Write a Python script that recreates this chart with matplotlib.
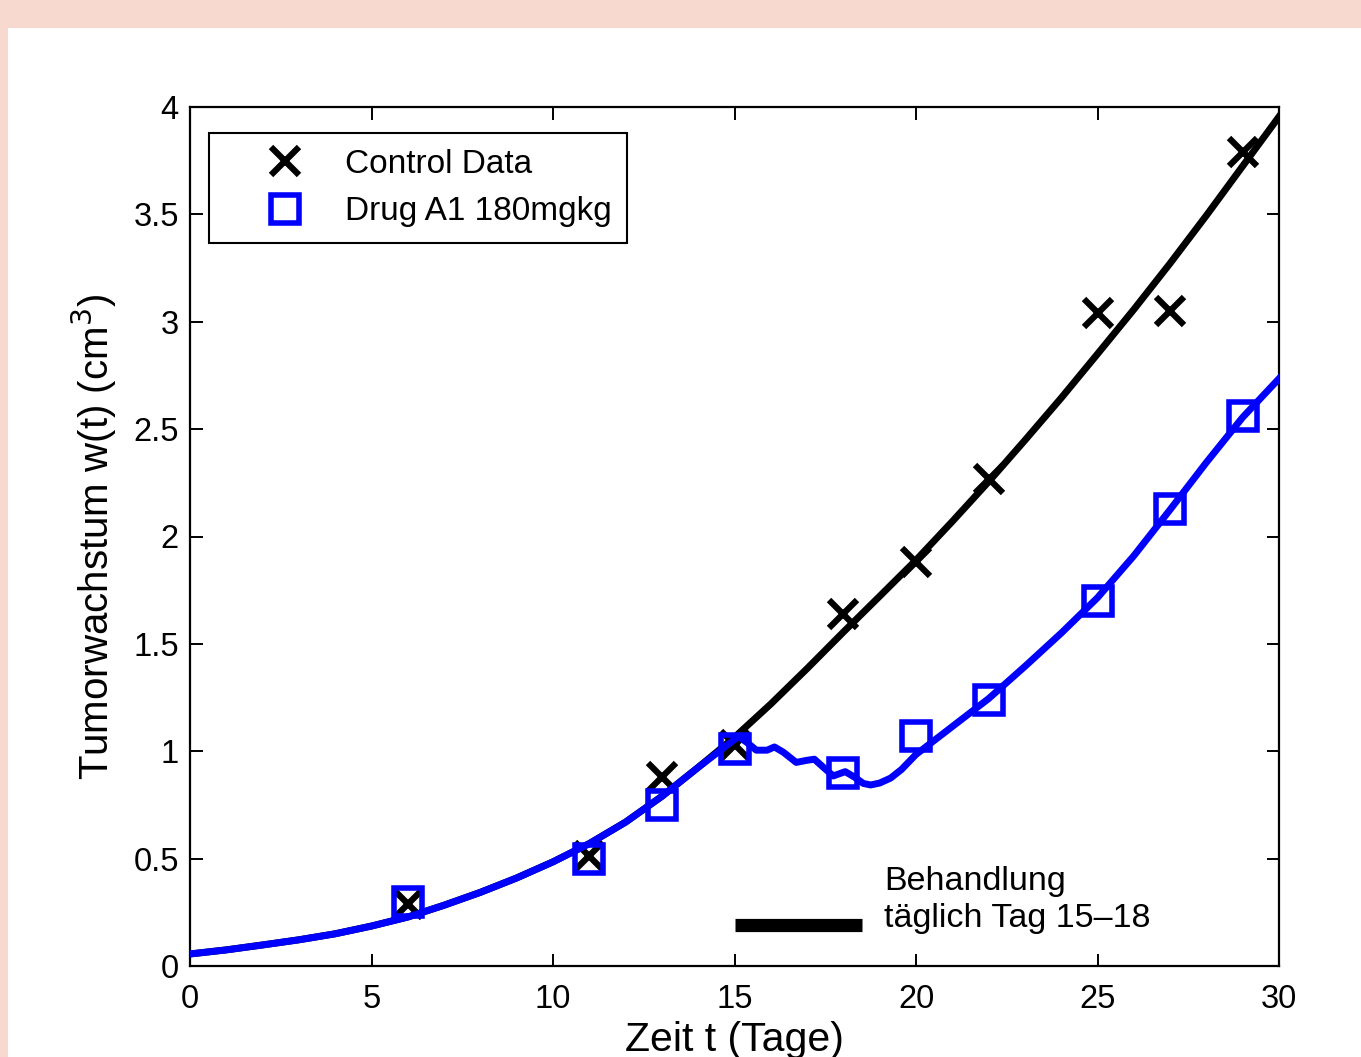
import matplotlib.pyplot as plt
from matplotlib.patches import Rectangle

plt.rcParams['font.family'] = ['Liberation Sans', 'DejaVu Sans']

# ------ Data ------
days = [6, 11, 13, 15, 18, 20, 22, 25, 27, 29]
control_vals = [0.29, 0.51, 0.88, 1.03, 1.64, 1.88, 2.27, 3.04, 3.05, 3.79]
drug_vals = [0.30, 0.50, 0.75, 1.01, 0.90, 1.07, 1.24, 1.70, 2.13, 2.56]

# model curve, control
ctrl_t = [0, 1, 2, 3, 4, 5, 6, 7, 8, 9, 10, 11, 12, 13, 14, 15,
          16, 17, 18, 19, 20, 21, 22, 23, 24, 25, 26, 27, 28, 29, 30]
ctrl_w = [0.056, 0.075, 0.098, 0.122, 0.150, 0.186, 0.228, 0.283, 0.343, 0.410,
          0.485, 0.570, 0.670, 0.790, 0.925, 1.065,
          1.220, 1.385, 1.555, 1.722, 1.890, 2.070, 2.255, 2.448, 2.645,
          2.850, 3.057, 3.272, 3.495, 3.725, 3.955]

# model curve, treated (same as control up to day 15)
drug_t = [0, 1, 2, 3, 4, 5, 6, 7, 8, 9, 10, 11, 12, 13, 14, 15,
          15.1, 15.35, 15.6, 15.9, 16.1, 16.35, 16.7, 17.0, 17.2, 17.45, 17.72,
          18.05, 18.3, 18.55, 18.75, 19.0, 19.3, 19.6, 20.0, 20.5, 21.0, 22.0,
          23.0, 24.0, 25.0, 26.0, 27.0, 28.0, 29.0, 30.0]
drug_w = [0.056, 0.075, 0.098, 0.122, 0.150, 0.186, 0.228, 0.283, 0.343, 0.410,
          0.485, 0.570, 0.670, 0.790, 0.925, 1.055,
          1.070, 1.040, 1.005, 1.005, 1.020, 0.995, 0.948, 0.958, 0.963, 0.925, 0.885,
          0.905, 0.880, 0.850, 0.843, 0.852, 0.875, 0.915, 0.985, 1.050, 1.115, 1.245,
          1.395, 1.550, 1.715, 1.910, 2.125, 2.345, 2.555, 2.735]

treat_span = [15, 18.5]
treat_level = 0.19

xticks = [0, 5, 10, 15, 20, 25, 30]
yticks = [0, 0.5, 1, 1.5, 2, 2.5, 3, 3.5, 4]
ytick_labels = ['0', '0.5', '1', '1.5', '2', '2.5', '3', '3.5', '4']

# ------ Figure ------
fig = plt.figure(figsize=(13.61, 10.57), dpi=100, facecolor='#f8d9cf')
fig.add_artist(Rectangle((8 / 1361, 0), 1 - 8 / 1361, (1057 - 28) / 1057,
                         transform=fig.transFigure, facecolor='white',
                         edgecolor='none', zorder=-10))
ax = fig.add_axes([190 / 1361, 91 / 1057, 1089 / 1361, 859 / 1057])

ax.plot(ctrl_t, ctrl_w, color='black', lw=5, zorder=2)
hx, = ax.plot(days, control_vals, ls='none', marker='x', ms=20, mew=4.5,
              color='black', zorder=3, label='Control Data')
ax.plot(drug_t, drug_w, color='#0000ff', lw=5, zorder=4)
hs, = ax.plot(days, drug_vals, ls='none', marker='s', ms=19.5, mew=4,
              mfc='none', mec='#0000ff', zorder=5, label='Drug A1 180mgkg')

ax.plot(treat_span, [treat_level, treat_level], color='black', lw=9.5,
        solid_capstyle='butt', zorder=3)
ax.text(19.12, 0.354, 'Behandlung', fontsize=24.5, va='baseline', ha='left')
ax.text(19.12, 0.182, 'täglich Tag 15\u201318', fontsize=24.5, va='baseline', ha='left')

ax.set_xlim(0, 30)
ax.set_ylim(0, 4)
ax.set_xticks(xticks)
ax.set_yticks(yticks)
ax.set_yticklabels(ytick_labels)
ax.tick_params(direction='in', length=9, width=1.4, labelsize=23.5,
               top=True, right=True)
ax.tick_params(axis='x', pad=13)
ax.tick_params(axis='y', pad=8)
for s in ax.spines.values():
    s.set_linewidth(1.6)

ax.set_xlabel('Zeit t (Tage)', fontsize=29.5, labelpad=4)
ax.set_ylabel('Tumorwachstum w(t) (cm$^3$)', fontsize=29, labelpad=10)

leg = ax.legend(handles=[hx, hs], loc='upper left',
                bbox_to_anchor=(19 / 1089, (966 - 133) / 859), borderaxespad=0,
                fontsize=24, fancybox=False, edgecolor='black', framealpha=1,
                handlelength=3.6, handletextpad=0.0, labelspacing=0.5,
                borderpad=0.47)
leg.get_frame().set_linewidth(1.5)

fig.savefig('out.png', dpi=100, facecolor=fig.get_facecolor())
